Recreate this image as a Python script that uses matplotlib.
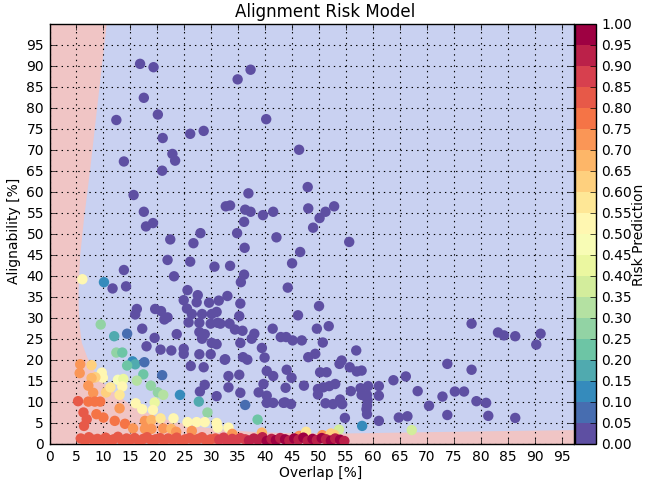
import numpy as np
import matplotlib
matplotlib.use('Agg')
import matplotlib.pyplot as plt

plt.style.use('classic')
plt.rcParams['font.family'] = ['DejaVu Sans']

# points predicted as safe (risk ~ 0): (overlap, alignability)
safe_points = [
    (16.8, 90.6), (19.3, 89.8), (34.9, 86.9), (37.3, 89.2), (17.5, 82.5), (20.1, 78.5),
    (40.2, 77.4), (12.4, 77.2), (21.0, 72.9), (26.1, 73.9), (28.6, 74.6), (46.3, 70.1),
    (22.8, 69.1), (23.3, 67.5), (13.8, 67.3), (20.9, 65.1), (15.6, 59.3), (36.9, 59.7),
    (47.9, 61.2), (17.5, 55.3), (32.7, 56.6), (33.5, 56.8), (36.3, 55.8), (37.3, 55.3),
    (36.1, 52.9), (39.6, 54.5), (41.5, 55.3), (48.0, 56.1), (52.8, 56.6), (51.2, 55.3),
    (50.1, 53.8), (48.9, 51.5), (34.8, 50.2), (42.1, 49.2), (55.6, 48.1), (36.2, 46.7),
    (46.5, 45.7), (33.5, 42.4), (45.0, 43.0), (36.1, 40.3), (35.5, 38.5), (44.2, 37.2),
    (17.9, 51.8), (19.2, 52.6), (22.4, 48.7), (26.7, 47.8), (28.0, 50.2),
    (13.8, 41.4), (21.9, 43.8), (26.1, 43.4), (30.6, 42.2), (23.1, 39.9), (11.7, 37.0),
    (14.2, 37.5), (25.6, 36.6), (27.5, 35.4), (24.9, 34.2), (27.3, 33.7), (29.6, 33.6),
    (31.4, 34.1), (16.2, 32.1), (15.9, 30.8), (19.6, 32.1), (20.7, 31.6), (21.3, 29.6),
    (21.9, 30.1), (25.5, 32.2), (26.4, 30.9), (28.3, 30.9), (30.1, 30.9), (31.0, 31.4),
    (25.8, 28.9), (27.8, 28.8), (29.9, 28.6), (31.2, 28.8), (17.2, 27.4), (19.5, 25.2),
    (23.6, 26.1), (27.8, 26.6), (28.8, 26.1), (28.3, 25.0), (30.1, 24.0), (31.0, 23.7),
    (18.0, 23.2), (20.6, 22.4), (22.6, 22.2), (24.9, 22.6), (24.9, 21.4), (27.8, 21.3),
    (29.9, 21.3), (32.5, 20.0), (26.2, 18.5), (28.6, 18.2), (31.0, 11.3), (27.9, 12.4),
    (28.8, 14.0),
    (33.0, 35.2), (35.4, 33.4), (50.0, 32.8), (35.2, 30.4), (46.1, 30.6), (31.7, 28.6),
    (33.4, 28.6), (34.4, 27.2), (35.8, 26.9), (38.0, 26.2), (37.5, 25.0), (41.4, 27.4),
    (42.9, 25.4), (43.9, 25.4), (45.1, 24.6), (46.8, 24.6), (49.6, 27.4), (51.8, 28.0),
    (50.7, 24.1), (35.4, 24.0), (39.4, 22.8), (39.9, 20.5), (32.6, 20.1), (35.9, 20.6),
    (36.7, 20.0), (49.3, 21.4), (48.0, 20.6), (56.9, 22.2), (53.8, 19.0), (54.2, 19.8),
    (55.7, 18.2), (40.3, 17.3), (44.0, 17.6), (50.2, 17.0), (51.4, 17.0), (57.0, 17.2),
    (57.9, 17.4),
    (44.9, 15.7), (47.2, 13.8), (43.8, 13.3), (49.8, 13.0), (50.8, 13.4), (51.9, 13.7),
    (53.0, 14.2), (49.8, 11.7), (55.9, 12.5), (57.7, 13.2), (59.1, 13.7), (61.1, 13.7),
    (57.9, 11.6), (58.9, 11.6), (61.1, 11.4), (63.8, 15.1), (66.1, 16.0), (68.3, 12.5),
    (43.4, 9.7), (44.8, 9.4), (51.2, 9.6), (52.6, 9.4), (54.3, 9.4), (53.9, 10.5),
    (58.9, 9.0), (58.9, 7.0), (54.8, 6.1), (61.1, 5.4), (64.8, 6.2), (66.4, 6.5),
    (70.4, 9.0), (72.9, 11.2), (73.8, 19.0), (73.8, 6.8), (75.2, 12.4), (76.9, 12.4),
    (78.3, 28.6), (78.3, 17.6), (79.2, 10.1), (81.0, 9.7), (81.4, 6.6), (83.2, 26.5),
    (84.3, 25.8), (86.4, 25.6), (86.4, 6.1), (90.3, 23.6), (91.1, 26.2),
    (33.2, 16.1), (35.2, 16.4), (33.2, 13.4), (35.4, 12.1), (39.7, 14.2), (38.8, 12.2),
    (40.3, 11.4), (40.3, 9.7), (41.5, 9.7), (41.5, 16.1), (43.7, 9.8), (59.0, 10.3),
    (58.8, 8.2),
]

# points with intermediate risk: (overlap, alignability, risk)
mixed_points = [
    (6.1, 39.2, 0.50), (10.1, 38.5, 0.10), (9.5, 28.4, 0.27), (12.0, 25.6, 0.15),
    (14.4, 26.2, 0.07), (12.4, 21.7, 0.27), (13.5, 21.7, 0.20), (15.4, 19.6, 0.12),
    (15.9, 18.9, 0.15), (17.6, 19.4, 0.07), (14.4, 18.6, 0.22), (17.4, 16.5, 0.20),
    (20.9, 16.3, 0.07), (16.2, 15.0, 0.30), (18.8, 13.8, 0.27), (20.1, 12.2, 0.25),
    (21.1, 11.6, 0.30), (24.2, 11.6, 0.12), (27.7, 10.0, 0.15), (29.3, 7.4, 0.27),
    (38.6, 5.7, 0.20), (36.3, 9.2, 0.06), (58.0, 4.2, 0.10), (67.2, 3.2, 0.37),
    (53.7, 3.3, 0.37),
    (5.6, 16.8, 0.70), (5.7, 18.9, 0.70), (7.8, 18.7, 0.60), (9.7, 16.9, 0.50),
    (9.9, 15.7, 0.50), (8.5, 15.8, 0.60), (7.8, 15.6, 0.67), (7.2, 13.8, 0.70),
    (8.1, 12.1, 0.70), (10.5, 12.2, 0.60), (11.3, 13.4, 0.55), (12.7, 15.2, 0.45),
    (13.7, 15.4, 0.42), (13.5, 13.6, 0.50), (13.0, 11.6, 0.55), (16.0, 9.6, 0.50),
    (17.2, 8.2, 0.50), (19.5, 9.8, 0.42), (19.2, 8.0, 0.50), (13.0, 8.4, 0.70),
    (5.3, 10.1, 0.80), (7.2, 10.0, 0.75), (8.4, 10.0, 0.75), (9.4, 10.0, 0.75),
    (6.3, 7.4, 0.80), (6.9, 5.8, 0.80), (6.4, 4.2, 0.82), (8.7, 7.0, 0.78),
    (10.0, 6.2, 0.75), (12.1, 5.4, 0.78), (14.0, 4.7, 0.78), (15.5, 3.6, 0.72),
    (17.7, 5.4, 0.70), (18.9, 5.6, 0.65), (20.6, 6.0, 0.55), (17.7, 3.5, 0.72),
    (18.9, 3.5, 0.70), (21.1, 3.6, 0.70), (22.6, 3.5, 0.67), (23.5, 2.8, 0.70),
    (23.0, 6.0, 0.50), (25.6, 5.1, 0.50), (27.3, 5.1, 0.50), (28.8, 5.1, 0.50),
    (31.0, 4.9, 0.50), (31.2, 3.8, 0.52), (33.2, 3.8, 0.50), (26.4, 3.0, 0.70),
    (33.9, 2.3, 0.70), (39.4, 2.6, 0.67), (46.3, 1.8, 0.72), (47.0, 1.9, 0.72),
    (47.6, 2.8, 0.55), (50.6, 2.0, 0.72), (52.2, 2.4, 0.62), (52.8, 2.1, 0.60),
]

# high risk points along the bottom edge: (overlap, alignability, risk)
bottom_points = [
    (5.8, 1.2, 0.83), (6.6, 0.7, 0.83), (7.3, 1.5, 0.84), (8.1, 0.9, 0.83), (8.9, 1.1, 0.83),
    (9.6, 0.6, 0.84), (10.4, 1.4, 0.83), (11.2, 0.8, 0.83), (11.9, 1.0, 0.84), (12.7, 1.6, 0.83),
    (13.5, 0.7, 0.83), (14.3, 1.2, 0.84), (15.0, 0.9, 0.83), (15.8, 1.3, 0.83), (16.6, 0.6, 0.84),
    (17.4, 1.1, 0.83), (18.1, 1.5, 0.83), (18.9, 0.8, 0.84), (19.7, 1.0, 0.83), (20.5, 1.3, 0.84),
    (21.2, 0.7, 0.83), (22.0, 1.2, 0.83), (22.9, 0.9, 0.84), (23.6, 1.4, 0.83), (24.4, 0.6, 0.83),
    (25.2, 1.0, 0.84), (26.0, 1.3, 0.83), (26.7, 0.8, 0.84), (27.6, 1.1, 0.83), (28.3, 1.5, 0.84),
    (29.1, 0.7, 0.83), (29.9, 1.0, 0.84), (30.8, 1.2, 0.84), (31.5, 0.9, 0.86), (32.3, 1.4, 0.86),
    (33.0, 0.6, 0.86), (33.9, 1.1, 0.88), (34.6, 0.8, 0.88), (35.4, 1.3, 0.88), (36.3, 1.0, 0.88),
    (37.0, 0.7, 0.93), (37.9, 1.2, 0.93), (38.7, 0.9, 0.93), (39.5, 1.5, 0.93), (40.3, 0.6, 0.95),
    (41.2, 1.1, 0.93), (42.0, 0.8, 0.95), (42.8, 1.3, 0.93), (43.7, 1.0, 0.95), (44.5, 0.7, 0.93),
    (45.4, 1.2, 0.95), (46.2, 0.9, 0.93), (47.1, 1.4, 0.95), (47.9, 0.6, 0.93), (48.8, 1.1, 0.95),
    (49.6, 0.8, 0.93), (50.5, 1.3, 0.95), (51.3, 1.0, 0.93), (52.2, 0.7, 0.95), (53.0, 1.2, 0.93),
    (53.9, 0.9, 0.95), (54.7, 0.6, 0.93),
]

# decision boundary of the model (edge of the safe region)
boundary_x = [10.6, 9.0, 7.6, 6.4, 5.7, 5.4, 5.4, 5.6, 6.0, 7.0, 8.0, 8.8, 10.0, 11.3, 14.4,
              18.7, 23.0, 28.0, 32.9, 38.5, 45.0, 55.0, 65.0, 80.0, 97.3, 97.3]
boundary_y = [100, 82, 66, 53.6, 45, 37, 33, 28, 24, 20.6, 18, 16.2, 14.5, 13.0, 9.8,
              7.0, 5.2, 3.9, 3.2, 2.7, 2.45, 2.4, 2.6, 2.9, 3.2, 100]

safe = np.array(safe_points)
mixed = np.array(mixed_points)
bottom = np.array(bottom_points)

overlap = np.concatenate([safe[:, 0], mixed[:, 0], bottom[:, 0]])
alignability = np.concatenate([safe[:, 1], mixed[:, 1], bottom[:, 1]])
risk = np.concatenate([np.zeros(len(safe)), mixed[:, 2], bottom[:, 2]])

fig = plt.figure(figsize=(6.48, 4.85), dpi=100, facecolor='white')
ax = fig.add_axes([0.0764, 0.0835, 0.8094, 0.864])
cax = fig.add_axes([0.8873, 0.0835, 0.0324, 0.864])

cmap = plt.get_cmap('Spectral_r', 20)

ax.set_facecolor('#f0c5c5')
ax.fill(boundary_x, boundary_y, color='#c9d1f1', lw=0, zorder=0)

sc = ax.scatter(overlap, alignability, c=risk, cmap=cmap, vmin=0, vmax=1,
                s=56, edgecolors='none', zorder=3)

ax.grid(True, color='black', linestyle=':', linewidth=0.8)
ax.set_xlim(0, 97.3)
ax.set_ylim(0, 100)
ax.set_xticks(np.arange(0, 100, 5))
ax.set_yticks(np.arange(0, 100, 5))
ax.tick_params(labelsize=10)

cb = fig.colorbar(sc, cax=cax, ticks=np.arange(0, 1.001, 0.05))
cb.ax.set_yticklabels(['%.2f' % t for t in np.arange(0, 1.001, 0.05)])
cb.ax.tick_params(labelsize=10)
cb.set_label('Risk Prediction', fontsize=10, labelpad=0)

fig.text(0.5015, 0.975, 'Alignment Risk Model', ha='center', va='center', fontsize=12)
fig.text(0.4954, 0.0247, 'Overlap [%]', ha='center', va='center', fontsize=10)
fig.text(0.0216, 0.5237, 'Alignability [%]', ha='center', va='center',
         rotation=90, fontsize=10)

fig.savefig('out.png', dpi=100, facecolor='white')
